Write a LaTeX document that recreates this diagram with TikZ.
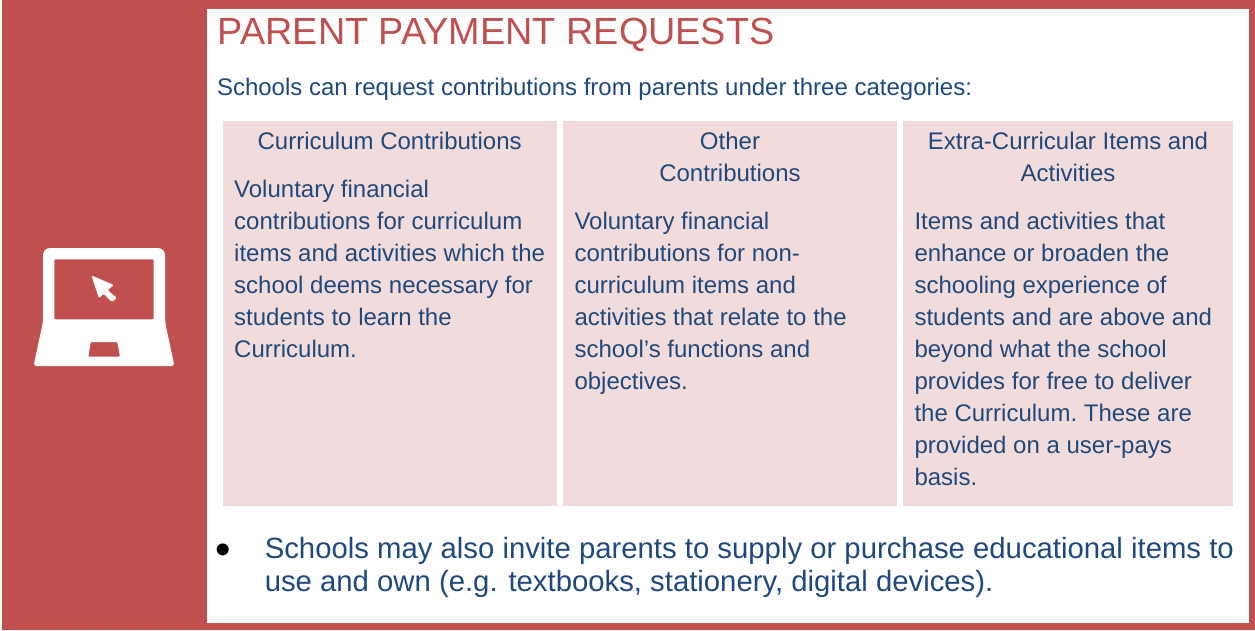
\documentclass[tikz,border=0pt]{standalone}
\usepackage{fontspec}
\setmainfont{Liberation Sans}
\frenchspacing
\definecolor{panelred}{HTML}{C0504D}
\definecolor{cellpink}{HTML}{F2DCDB}
\definecolor{inkblue}{HTML}{1F497D}
\tikzset{
  cell/.style={fill=cellpink,draw=none},
  txt/.style={anchor=north west,inner sep=0pt,outer sep=0pt,align=left,text=inkblue,font=\fontsize{24}{32}\selectfont},
  head/.style={anchor=north,inner sep=0pt,outer sep=0pt,align=center,text=inkblue,font=\fontsize{24}{32}\selectfont},
  big/.style={txt,font=\fontsize{29.3}{33}\selectfont}
}
\begin{document}
\begin{tikzpicture}[x=1pt,y=-1pt]
\useasboundingbox (0,0) rectangle (1255,630);
\fill[white] (0,0) rectangle (1255,630);
\fill[panelred] (2,0) rectangle (1255,630);
\fill[white] (207,9) rectangle (1249,623);
% laptop
\fill[white,even odd rule]
  [rounded corners=7pt] (43,322) -- (43,248) -- (165,248) -- (165,322)
  [rounded corners=3pt] -- (174.5,366) -- (33.5,366) -- cycle
  [rounded corners=1pt] (54.3,259.3) rectangle (153.7,319.3)
  (90.7,342) -- (117.3,342) -- (120,356.7) -- (88.3,356.7) -- cycle;
\fill[white,rounded corners=1.5pt] (91.5,275.5) -- (114,285) -- (107.5,290) -- (117,298) -- (112,302) -- (103.5,293.5) -- (99,298.5) -- cycle;
% title
\node[anchor=north west,inner sep=0pt,text=panelred,font=\fontsize{37.8}{42}\selectfont] (title) at (217.7,18) {PARENT PAYMENT REQUESTS};
\node[txt] (intro) at (217,78) {Schools can request contributions from parents under three categories:};
% cells
\fill[cell] (223,121) rectangle (557,506);
\fill[cell] (563,121) rectangle (897,506);
\fill[cell] (903,121) rectangle (1233,506);
\node[head] (h1) at (389.7,132) {Curriculum Contributions};
\node[head] (h2) at (730,132) {Other\\Contributions};
\node[head] (h3) at (1068,132) {Extra-Curricular Items and\\Activities};
\node[txt] (b1) at (234.2,180) {Voluntary financial\\contributions for curriculum\\items and activities which the\\school deems necessary for\\students to learn the\\Curriculum.};
\node[txt] (b2) at (574.5,212) {Voluntary financial\\contributions for non-\\curriculum items and\\activities that relate to the\\school’s functions and\\objectives.};
\node[txt] (b3) at (914.5,212) {Items and activities that\\enhance or broaden the\\schooling experience of\\students and are above and\\beyond what the school\\provides for free to deliver\\the Curriculum. These are\\provided on a user-pays\\basis.};
% bullet
\node[anchor=base,inner sep=0pt,text=black,font=\fontsize{44}{44}\selectfont] (dot) at (223.5,564) {•};
\node[big] (b4) at (264.8,537) {Schools may also invite parents to supply or purchase educational items to\\\nonfrenchspacing use and own (e.g. textbooks, stationery, digital devices).};
\end{tikzpicture}
\end{document}
